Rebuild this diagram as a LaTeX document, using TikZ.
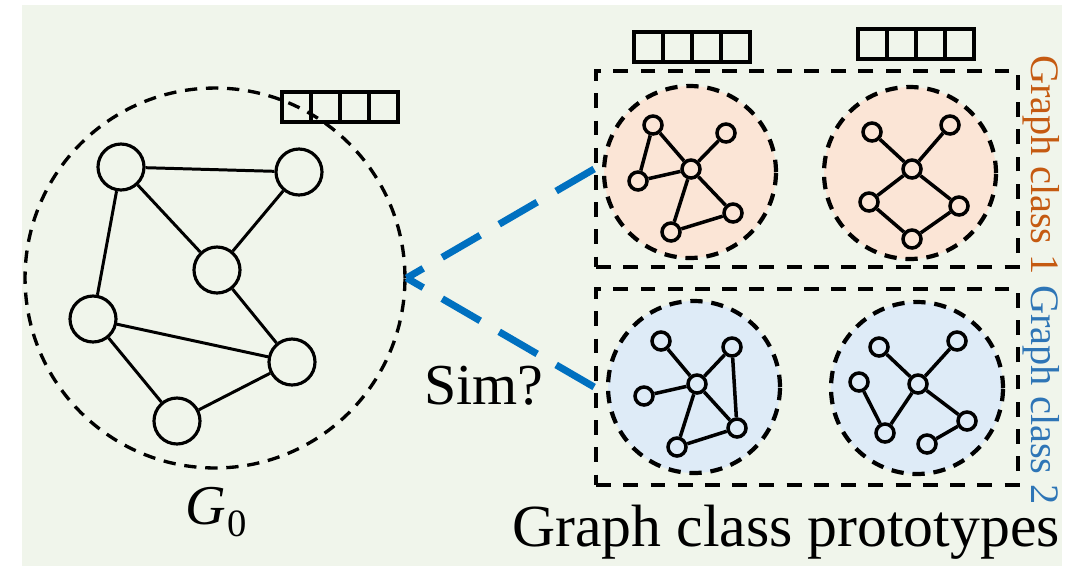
\documentclass[tikz,border=0pt]{standalone}
\usepackage{fontspec}
\setmainfont{Liberation Serif}

\definecolor{bgpanel}{RGB}{240,245,235}
\definecolor{peach}{RGB}{251,229,214}
\definecolor{paleblue}{RGB}{222,235,247}
\definecolor{simblue}{RGB}{0,112,192}
\definecolor{clsorange}{RGB}{197,90,17}
\definecolor{clsblue}{RGB}{46,117,182}

\tikzset{
  gnode/.style={circle, draw, line width=1.8pt, minimum size=0.92cm, inner sep=0pt},
  gedge/.style={line width=1.7pt},
  snode/.style={circle, draw, line width=2pt, minimum size=0.36cm, inner sep=0pt},
  sedge/.style={line width=2pt},
  bigcirc/.style={circle, draw, line width=1.9pt, dash pattern=on 7pt off 5pt, minimum size=7.6cm, inner sep=0pt},
  protocirc/.style={circle, draw, line width=2.4pt, dash pattern=on 7pt off 5pt, minimum size=3.44cm, inner sep=0pt},
  classbox/.style={draw, line width=2.2pt, dash pattern=on 8.5pt off 7pt, minimum width=8.44cm, minimum height=3.92cm, inner sep=0pt},
  simline/.style={simblue, line width=4pt, dash pattern=on 25pt off 12.5pt},
  vecbox/.style={line width=1.9pt}
}

% feature vector of four cells
\newcommand{\featvec}[2]{%
  \foreach \i in {0,...,3}
    \draw[vecbox] ({#1+29*\i},#2) rectangle ++(29,30);
}

\begin{document}
\begin{tikzpicture}[x=0.02cm,y=-0.02cm]
\useasboundingbox (0,0) rectangle (1081,566);
\fill[white] (0,0) rectangle (1081,566);
\fill[bgpanel] (22,5) rectangle (1062,566);

% query graph
\node[bigcirc] (g0) at (215,278) {};
\node[gnode] (g1) at (121,167) {};
\node[gnode] (g2) at (299,172) {};
\node[gnode] (g3) at (217,270) {};
\node[gnode] (g4) at (93,319) {};
\node[gnode] (g5) at (292,362) {};
\node[gnode] (g6) at (177,421) {};
\foreach \u/\v in {g1/g2, g1/g3, g2/g3, g1/g4, g3/g5, g4/g5, g4/g6, g6/g5}
  \draw[gedge] (\u) -- (\v);
\featvec{282}{92}
\node[font=\fontsize{32}{36}\selectfont, anchor=base] (lg0) at (216,524)
  {\textit{G}\kern1pt\raisebox{-0.22em}{\fontsize{22}{24}\selectfont 0}};

% class boxes
\node[classbox] (box1) at (807,169) {};
\node[classbox] (box2) at (807,387) {};

% prototypes
\node[protocirc, fill=peach] (p11) at (690,172) {};
\node[protocirc, fill=peach] (p12) at (910,173) {};
\node[protocirc, fill=paleblue] (p21) at (694,387) {};
\node[protocirc, fill=paleblue] (p22) at (917,388) {};
\featvec{634}{32}
\featvec{858}{29}

% prototype 1 of class 1
\node[snode] (aa) at (653,125) {};
\node[snode] (ab) at (726,133) {};
\node[snode] (ac) at (691,169) {};
\node[snode] (ad) at (638,181) {};
\node[snode] (ae) at (733,213) {};
\node[snode] (af) at (671,232) {};
\foreach \u/\v in {aa/ac, aa/ad, ad/ac, ac/ab, ac/ae, ac/af, af/ae}
  \draw[sedge] (\u) -- (\v);

% prototype 2 of class 1
\node[snode] (ba) at (872,132) {};
\node[snode] (bb) at (950,125) {};
\node[snode] (bc) at (912,169) {};
\node[snode] (bd) at (869,202) {};
\node[snode] (be) at (959,206) {};
\node[snode] (bf) at (912,239) {};
\foreach \u/\v in {ba/bc, bb/bc, bc/bd, bc/be, bd/bf, be/bf}
  \draw[sedge] (\u) -- (\v);

% prototype 1 of class 2
\node[snode] (ca) at (661,341) {};
\node[snode] (cb) at (732,347) {};
\node[snode] (cc) at (697,384) {};
\node[snode] (cd) at (644,396) {};
\node[snode] (ce) at (737,428) {};
\node[snode] (cf) at (677,447) {};
\foreach \u/\v in {ca/cc, cc/cb, cd/cc, cb/ce, cc/ce, cc/cf, cf/ce}
  \draw[sedge] (\u) -- (\v);

% prototype 2 of class 2
\node[snode] (da) at (879,347) {};
\node[snode] (db) at (957,341) {};
\node[snode] (dc) at (918,384) {};
\node[snode] (dd) at (859,382) {};
\node[snode] (de) at (967,421) {};
\node[snode] (df) at (885,433) {};
\node[snode] (dg) at (927,444) {};
\foreach \u/\v in {da/dc, db/dc, dc/df, dd/df, dc/de, de/dg}
  \draw[sedge] (\u) -- (\v);

% similarity
\draw[simline] (box1.west) -- (g0.east);
\draw[simline] (box2.west) -- (g0.east);
\node[font=\fontsize{33}{38}\selectfont, anchor=base] (sim) at (484,404) {Sim?};

% labels
\node[rotate=-90, text=clsorange, font=\fontsize{23}{26}\selectfont] (lab1) at (1041,165) {Graph class 1};
\node[rotate=-90, text=clsblue, font=\fontsize{23}{26}\selectfont] (lab2) at (1041,395) {Graph class 2};
\node[font=\fontsize{34}{38}\selectfont, anchor=base] (lproto) at (786,546) {Graph class prototypes};

\end{tikzpicture}
\end{document}
